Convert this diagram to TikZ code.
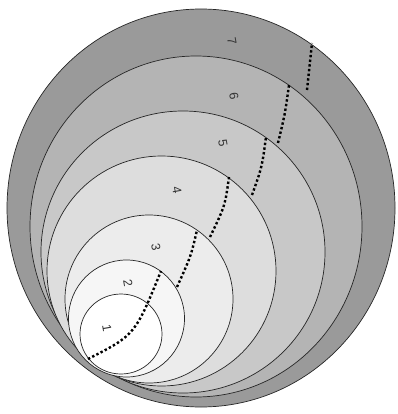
\documentclass[tikz,border=0pt]{standalone}
\usepackage{fontspec}
\setmainfont{Liberation Sans}
\usepackage{xcolor}
\definecolor{ringOne}{RGB}{255,255,255}
\definecolor{ringTwo}{RGB}{246,246,246}
\definecolor{ringThree}{RGB}{236,236,236}
\definecolor{ringFour}{RGB}{221,221,221}
\definecolor{ringFive}{RGB}{200,200,200}
\definecolor{ringSix}{RGB}{180,180,180}
\definecolor{ringSeven}{RGB}{154,154,154}
\tikzset{
    ring/.style={draw=black!85,line width=0.7pt},
    lbl/.style={font=\fontsize{12.5}{14}\selectfont,text=black!80,rotate=-80,inner sep=0pt},
    dots/.style={line width=2.4pt,dash pattern=on 2.4pt off 2.3pt,black}
}
\begin{document}
\begin{tikzpicture}[x=1pt,y=-1pt]
    \fill[white] (0,0) rectangle (397,414);
    \useasboundingbox (0,0) rectangle (397,414);

    % nested rings, largest first
    \draw[ring,fill=ringSeven] (201,208)   ellipse [x radius=194,  y radius=199];
    \draw[ring,fill=ringSix]   (196,226.5) ellipse [x radius=166,  y radius=170.5];
    \draw[ring,fill=ringFive]  (183,252)   ellipse [x radius=142,  y radius=141];
    \draw[ring,fill=ringFour]  (161.5,271) ellipse [x radius=114.5,y radius=115];
    \draw[ring,fill=ringThree] (149,299)   ellipse [x radius=84,   y radius=84];
    \draw[ring,fill=ringTwo]   (126.5,318.5) ellipse [x radius=58, y radius=58.5];
    \draw[ring,fill=ringOne]   (121,334)   ellipse [x radius=41,   y radius=40];

    % dotted steps
    \coordinate (a0) at (88,359);   \coordinate (a1) at (161,271);
    \coordinate (b0) at (177,287);  \coordinate (b1) at (197,230);
    \coordinate (c0) at (210,237);  \coordinate (c1) at (229,177);
    \coordinate (d0) at (252,195);  \coordinate (d1) at (266,137);
    \coordinate (e0) at (278,143);  \coordinate (e1) at (289,85);
    \coordinate (f0) at (307,90);   \coordinate (f1) at (312,43);
    \draw[dots] (a0) .. controls (135,335) .. (a1);
    \draw[dots] (b0) .. controls (191,256) .. (b1);
    \draw[dots] (c0) .. controls (225,206) .. (c1);
    \draw[dots] (d0) .. controls (262,167) .. (d1);
    \draw[dots] (e0) .. controls (285,114) .. (e1);
    \draw[dots] (f0) .. controls (310,66) .. (f1);

    % ring numbers
    \node[lbl] (n1) at (107,328) {1};
    \node[lbl] (n2) at (128,283) {2};
    \node[lbl] (n3) at (156,247) {3};
    \node[lbl] (n4) at (177,190) {4};
    \node[lbl] (n5) at (223,143) {5};
    \node[lbl] (n6) at (234,96)  {6};
    \node[lbl] (n7) at (232,41)  {7};
\end{tikzpicture}
\end{document}
